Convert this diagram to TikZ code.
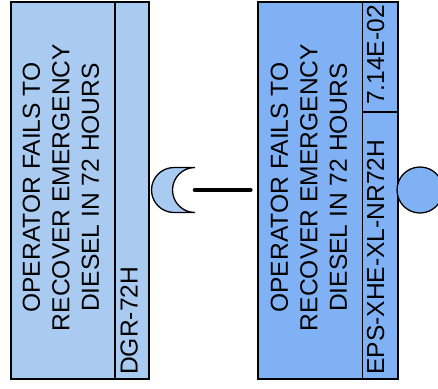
\documentclass[tikz,border=0pt]{standalone}
\usepackage{fontspec}
\setmainfont{Liberation Sans}
\definecolor{lblue}{RGB}{169,203,241}
\definecolor{rblue}{RGB}{128,177,245}
\begin{document}
\begin{tikzpicture}[x=1pt,y=-1pt,
  evbox/.style={draw=black, line width=1.8pt, rectangle, inner sep=0pt},
  divider/.style={draw=black, line width=1.5pt},
  vtext/.style={rotate=90, inner sep=0pt, font=\fontsize{24.6pt}{29.5pt}\selectfont},
  conn/.style={line width=4pt, line cap=round},
  shapeline/.style={draw=black, line width=1.3pt}]
\useasboundingbox (0,0) rectangle (438,388);
% left event box
\node[evbox, fill=lblue, minimum width=138.3pt, minimum height=377.3pt] (lbox) at (79.85,190.35) {};
\draw[divider] (115,1.7) -- (115,379);
\node[vtext, align=center] (ltext) at (61,187.5) {OPERATOR FAILS TO\\RECOVER EMERGENCY\\DIESEL IN 72 HOURS};
\node[vtext, anchor=base west] (lid) at (137.5,375) {DGR-72H};
% right event box
\node[evbox, fill=rblue, minimum width=140pt, minimum height=377.3pt] (rbox) at (328,190.35) {};
\draw[divider] (362.5,1.7) -- (362.5,379);
\draw[divider] (362.5,112) -- (398,112);
\node[vtext, align=center] (rtext) at (309,187.5) {OPERATOR FAILS TO\\RECOVER EMERGENCY\\DIESEL IN 72 HOURS};
\node[vtext, anchor=base west] (rid) at (384,375) {EPS-XHE-XL-NR72H};
\node[vtext, anchor=base] (rprob) at (384,55) {7.14E-02};
% crescent (transfer-in)
\filldraw[shapeline, fill=lblue] (195,167.5) -- (174,167.5)
  arc[start angle=270, end angle=90, radius=22.5] -- (195,212.5)
  arc[start angle=90, end angle=270, radius=22.5] -- cycle;
\coordinate (cres) at (194.7,190);
% circle (basic event)
\node[circle, shapeline, fill=rblue, minimum size=46pt, inner sep=0pt] (bev) at (420,190) {};
% connector
\draw[conn, shorten >=6.5pt] (cres) -- (rbox.west |- cres);
\end{tikzpicture}
\end{document}
